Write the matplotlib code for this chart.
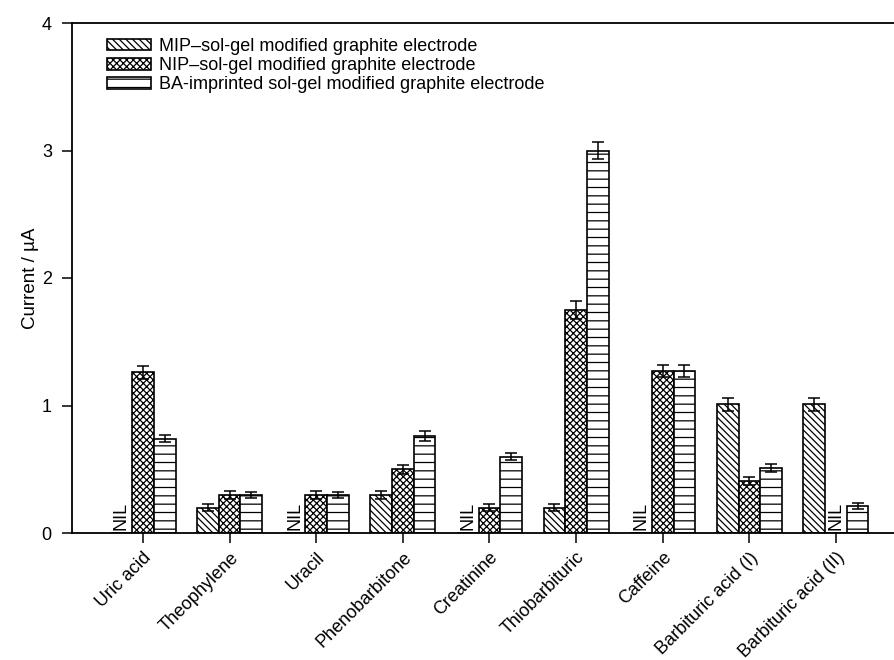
import numpy as np
import matplotlib
matplotlib.use("Agg")
import matplotlib.pyplot as plt

plt.rcParams["font.family"] = ["Liberation Sans", "DejaVu Sans"]
plt.rcParams["hatch.linewidth"] = 0.9
plt.rcParams["hatch.color"] = "black"

categories = ["Uric acid", "Theophylene", "Uracil", "Phenobarbitone", "Creatinine",
              "Thiobarbituric", "Caffeine", "Barbituric acid (I)", "Barbituric acid (II)"]

# None = not detected (NIL)
mip = [None, 0.20, None, 0.30, None, 0.20, None, 1.01, 1.01]
mip_err = [0, 0.03, 0, 0.03, 0, 0.03, 0, 0.05, 0.05]
nip = [1.26, 0.30, 0.30, 0.50, 0.20, 1.75, 1.27, 0.41, None]
nip_err = [0.05, 0.03, 0.03, 0.035, 0.025, 0.07, 0.05, 0.03, 0]
ba = [0.74, 0.30, 0.30, 0.76, 0.60, 3.00, 1.27, 0.51, 0.21]
ba_err = [0.03, 0.025, 0.025, 0.04, 0.03, 0.07, 0.05, 0.03, 0.025]

series = [
    ("MIP\u2013sol-gel modified graphite electrode", mip, mip_err, "\\\\\\\\\\"),
    ("NIP\u2013sol-gel modified graphite electrode", nip, nip_err, "xxxxx"),
    ("BA-imprinted sol-gel modified graphite electrode", ba, ba_err, "--"),
]


def main():
    fig = plt.figure(figsize=(8.94, 6.6), dpi=100)
    ax = fig.add_axes([72 / 894, 127 / 660, 1 - 72 / 894, 510 / 660])

    x = np.arange(len(categories))
    width = 0.25
    for k, (label, vals, errs, hatch) in enumerate(series):
        pos = x + (k - 1) * width
        h = np.array([np.nan if v is None else v for v in vals], dtype=float)
        ax.bar(pos, np.nan_to_num(h), width, color="white", edgecolor="black",
               linewidth=1.2, hatch=hatch, label=label, zorder=2)
        ok = ~np.isnan(h)
        ax.errorbar(pos[ok], h[ok], yerr=np.array(errs)[ok], fmt="none",
                    ecolor="black", elinewidth=1.1, capsize=4, capthick=1.1, zorder=3)
        for p in pos[~ok]:
            ax.text(p, 0.02, "NIL", rotation=90, ha="center", va="bottom",
                    fontsize=13, zorder=4)

    ax.set_xlim(-0.82, 8.67)
    ax.set_ylim(0, 4)
    ax.set_yticks([0, 1, 2, 3, 4])
    ax.set_xticks(x)
    ax.set_xticklabels(categories, rotation=45, ha="right", rotation_mode="anchor",
                       fontsize=12)
    ax.tick_params(axis="both", direction="out", length=7.5, width=1.1, labelsize=13)
    ax.tick_params(axis="y", pad=7)
    ax.tick_params(axis="x", pad=4)
    ax.set_ylabel("Current / \u00b5A", fontsize=13.5, labelpad=2)
    ax.spines["right"].set_visible(False)
    for s in ("left", "bottom", "top"):
        ax.spines[s].set_linewidth(1.3)

    ax.legend(loc="upper left", bbox_to_anchor=(0.034, 0.985), frameon=False,
              fontsize=13, handlelength=2.4, handleheight=0.62,
              handletextpad=0.45, labelspacing=0.12, borderaxespad=0)

    fig.savefig("out.png", dpi=100)


if __name__ == "__main__":
    main()
